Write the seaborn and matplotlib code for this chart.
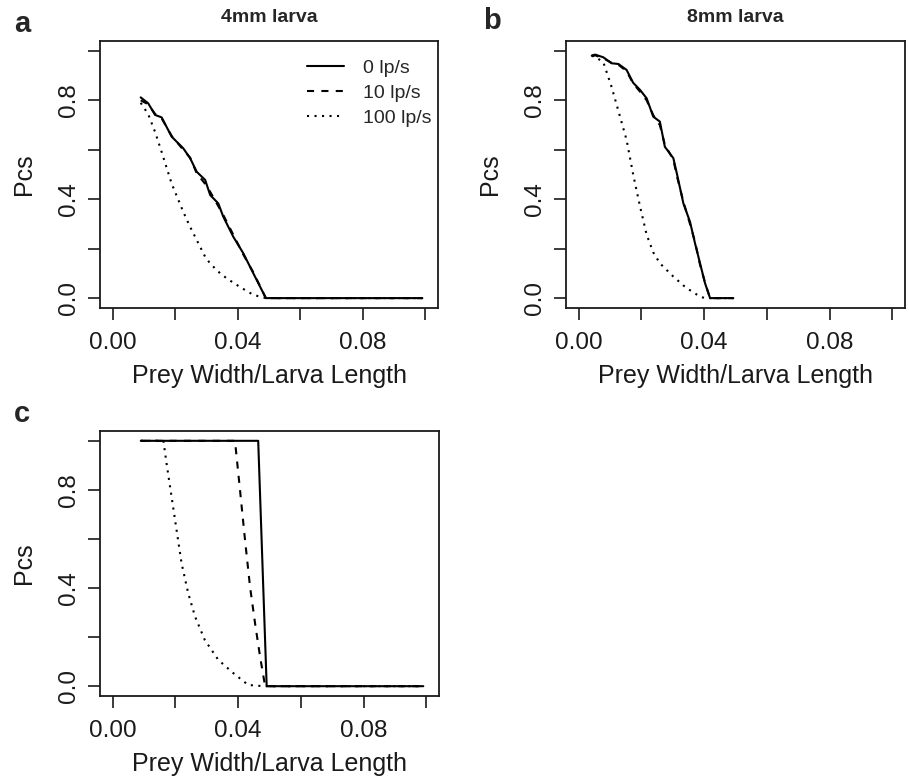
import matplotlib
matplotlib.use("Agg")
import matplotlib.pyplot as plt
import seaborn as sns
import pandas as pd
from matplotlib.lines import Line2D

sns.set_style("white")
plt.rcParams['font.family'] = ['Liberation Sans', 'DejaVu Sans']

# ---------------- data ----------------
series_labels = ["0 lp/s", "10 lp/s", "100 lp/s"]
x_ticks = [0.00, 0.02, 0.04, 0.06, 0.08, 0.10]
x_ticklabels = ["0.00", "", "0.04", "", "0.08", ""]
y_ticks = [0.0, 0.2, 0.4, 0.6, 0.8, 1.0]
y_ticklabels = ["0.0", "", "0.4", "", "0.8", ""]

# panel a: 4mm larva
xa = [0.009, 0.0114, 0.0136, 0.0157, 0.0189, 0.0226, 0.0248, 0.0269, 0.0296,
      0.0312, 0.0338, 0.0354, 0.0386, 0.0418, 0.045, 0.049, 0.099]
ya_0 = [0.812, 0.788, 0.741, 0.731, 0.653, 0.606, 0.566, 0.511, 0.478,
        0.417, 0.383, 0.329, 0.248, 0.181, 0.100, 0.0, 0.0]
ya_10 = [0.800, 0.784, 0.745, 0.727, 0.656, 0.600, 0.568, 0.505, 0.462,
         0.430, 0.372, 0.336, 0.256, 0.176, 0.104, 0.0, 0.0]
ya_100 = [0.790, 0.744, 0.672, 0.591, 0.463, 0.349, 0.288, 0.235, 0.167,
          0.140, 0.107, 0.090, 0.062, 0.037, 0.013, 0.0, 0.0]

# panel b: 8mm larva
xb = [0.0042, 0.0053, 0.0079, 0.0105, 0.0127, 0.0153, 0.0174, 0.0196, 0.0217,
      0.0238, 0.0259, 0.0275, 0.0302, 0.0313, 0.0334, 0.0355, 0.0371, 0.0387,
      0.0403, 0.0419, 0.0493]
yb_0 = [0.981, 0.985, 0.974, 0.950, 0.947, 0.923, 0.871, 0.842, 0.808,
        0.734, 0.714, 0.612, 0.566, 0.505, 0.383, 0.309, 0.222, 0.141,
        0.060, 0.0, 0.0]
yb_10 = [0.978, 0.982, 0.970, 0.952, 0.944, 0.918, 0.868, 0.835, 0.800,
         0.740, 0.700, 0.620, 0.560, 0.495, 0.390, 0.300, 0.228, 0.135,
         0.062, 0.0, 0.0]
yb_100 = [0.981, 0.976, 0.954, 0.855, 0.757, 0.640, 0.500, 0.370, 0.256,
          0.185, 0.141, 0.121, 0.087, 0.075, 0.051, 0.032, 0.019, 0.006,
          0.0, 0.0, 0.0]

# panel c
xc_0 = [0.009, 0.0464, 0.0491, 0.099]
yc_0 = [1.0, 1.0, 0.0, 0.0]
xc_10 = [0.009, 0.039, 0.0406, 0.0422, 0.0438, 0.0454, 0.047, 0.0486, 0.099]
yc_10 = [1.0, 1.0, 0.80, 0.596, 0.405, 0.256, 0.12, 0.0, 0.0]
xc_100 = [0.009, 0.0162, 0.0172, 0.0188, 0.0204, 0.022, 0.0241, 0.0263, 0.0294,
          0.0337, 0.0385, 0.0432, 0.048, 0.099]
yc_100 = [1.0, 1.0, 0.908, 0.772, 0.636, 0.50, 0.379, 0.283, 0.188,
          0.107, 0.053, 0.005, 0.0, 0.0]

# ---------------- style ----------------
LW = 1.5
styles = {
    "0 lp/s": dict(linestyle="-"),
    "10 lp/s": dict(dashes=(3.4, 3.5)),
    "100 lp/s": dict(dashes=(1.0, 2.6)),
}

fig = plt.figure(figsize=(9.09, 7.79), dpi=100)
W, H = 909, 779

def add_ax(left, right, top, bottom):
    return fig.add_axes([left / W, (H - bottom) / H, (right - left) / W, (bottom - top) / H])

ax_a = add_ax(100, 438, 41, 308)
ax_b = add_ax(566, 905, 41, 308)
ax_c = add_ax(100, 439, 431, 696)

def draw(ax, curves):
    for lab, xs, ys in curves:
        df = pd.DataFrame({"x": xs, "y": ys})
        sns.lineplot(data=df, x="x", y="y", ax=ax, color="black", lw=LW,
                     estimator=None, sort=False, **styles[lab])

def style_ax(ax):
    ax.set_xlim(-0.004, 0.104)
    ax.set_ylim(-0.04, 1.04)
    ax.set_xticks(x_ticks)
    ax.set_xticklabels(x_ticklabels)
    ax.set_yticks(y_ticks)
    ax.set_yticklabels(y_ticklabels, rotation=90, va="center")
    ax.tick_params(direction="out", length=8.5, width=1.2, labelsize=17.5,
                   colors="#1a1a1a", pad=6, bottom=True, left=True)
    ax.tick_params(axis="x", pad=9)
    for s in ax.spines.values():
        s.set_linewidth(1.3)
        s.set_color("#1a1a1a")
    h = ax.get_position().height * H
    w = ax.get_position().width * W
    ax.set_xlabel("Prey Width/Larva Length", fontsize=18, color="#1a1a1a")
    ax.set_ylabel("Pcs", fontsize=18, color="#1a1a1a")
    ax.xaxis.set_label_coords(0.5, -56.0 / h)
    ax.yaxis.set_label_coords(-64.0 / w, 0.5)

draw(ax_a, [("0 lp/s", xa, ya_0), ("10 lp/s", xa, ya_10), ("100 lp/s", xa, ya_100)])
draw(ax_b, [("0 lp/s", xb, yb_0), ("10 lp/s", xb, yb_10), ("100 lp/s", xb, yb_100)])
draw(ax_c, [("0 lp/s", xc_0, yc_0), ("10 lp/s", xc_10, yc_10), ("100 lp/s", xc_100, yc_100)])

for ax in (ax_a, ax_b, ax_c):
    style_ax(ax)

# legend in panel a
handles = [Line2D([], [], color="black", lw=LW, **styles[l]) for l in series_labels]
ax_a.legend(handles, series_labels, loc="upper right", bbox_to_anchor=(0.98, 0.93),
            frameon=False, fontsize=14, handlelength=1.9, handletextpad=0.95,
            labelspacing=0.38, borderpad=0, borderaxespad=0)

# titles and panel letters
fig.text(269 / W, 1 - 18 / H, "4mm larva", ha="center", va="center",
         fontsize=14, fontweight="bold")
fig.text(735 / W, 1 - 18 / H, "8mm larva", ha="center", va="center",
         fontsize=14, fontweight="bold")
fig.text(22 / W, 1 - 24 / H, "a", ha="center", va="center", fontsize=21, fontweight="bold")
fig.text(492 / W, 1 - 21 / H, "b", ha="center", va="center", fontsize=21, fontweight="bold")
fig.text(22 / W, 1 - 414 / H, "c", ha="center", va="center", fontsize=21, fontweight="bold")

fig.savefig("out.png", dpi=100, facecolor="white")
